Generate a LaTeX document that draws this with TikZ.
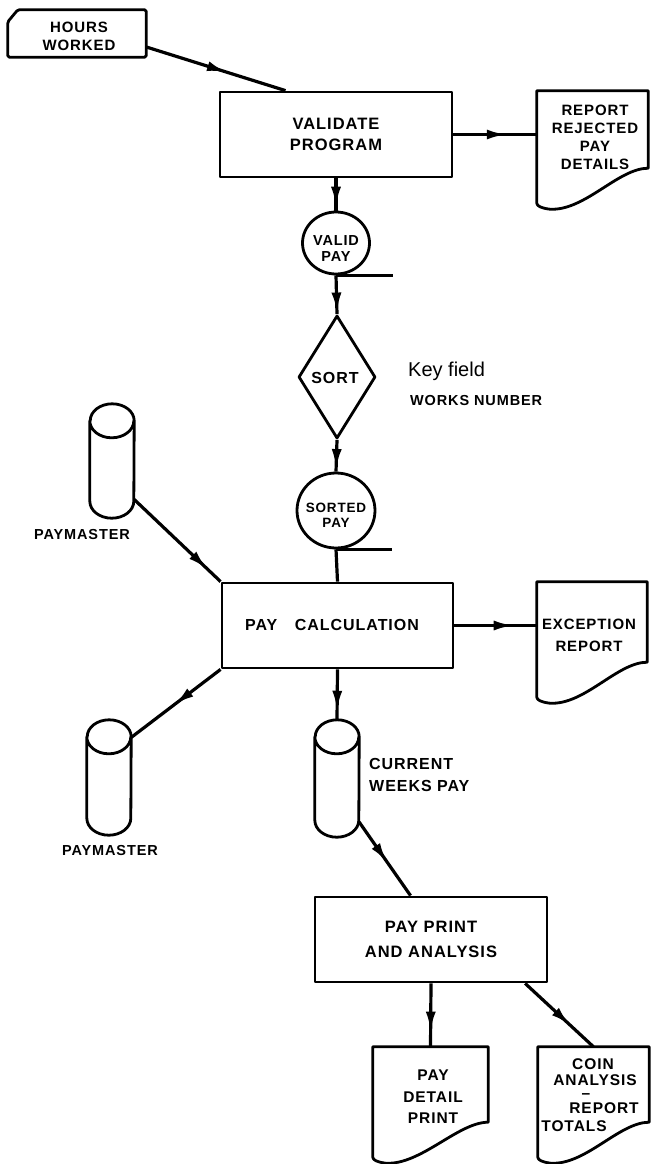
\documentclass[tikz,border=0pt]{standalone}
\usepackage{fontspec}
\setmainfont{Liberation Sans}
\newfontfamily\lbl{Liberation Sans}[LetterSpace=6]
\usetikzlibrary{shapes.geometric,arrows.meta,decorations.markings,calc}

\newcommand\fs[2]{\lbl\bfseries\fontsize{#1}{#2}\selectfont}

\tikzset{
  shp/.style={line width=2.8pt, line join=round},
  procbox/.style={shp, draw, rectangle, inner sep=0pt, align=center, font=\fs{16.5}{21}},
  area/.style={rectangle, inner sep=0pt},
  conn/.style={line width=3.2pt},
  midarr/.style={conn, postaction={decorate}, decoration={markings, mark=at position #1 with {\arrow{Latex[length=20pt,width=10pt]}}}},
  lab/.style={font=\fs{15.5}{18}, align=center, inner sep=0pt},
  smlab/.style={font=\fs{14.5}{16}, align=center, inner sep=0pt},
}

\newcommand\docshape[1]{%
  \draw[shp] let \p1=(#1.north west), \p2=(#1.south east) in
    (\x1,\y1) -- (\x2,\y1) -- (\x2,\y2+35pt)
    .. controls (\x2-30pt,\y2+35pt) and (\x1+48pt,\y2-8pt) .. (\x1+13pt,\y2-6pt)
    .. controls (\x1+5pt,\y2-5pt) and (\x1,\y2-3pt) .. (\x1,\y2) -- cycle;}
\newcommand\cylshape[1]{%
  \draw[shp] let \p1=(#1.north west), \p2=(#1.south east) in
    (\x1,\y1-17pt) -- (\x1,\y2+17pt) arc[start angle=180,end angle=360,x radius=22pt,y radius=17pt]
    -- (\x2,\y1-17pt) arc[start angle=0,end angle=180,x radius=22pt,y radius=17pt] -- cycle
    (\x1,\y1-17pt) arc[start angle=180,end angle=360,x radius=22pt,y radius=17pt];}

\begin{document}
\begin{tikzpicture}[x=1pt,y=-1pt]
\useasboundingbox (0,0) rectangle (651,1164);

% ---- nodes ----
\node[area, minimum width=138pt, minimum height=47pt] (hours) at (77,33.5) {};
\draw[shp, rounded corners=1.5pt] (hours.south west) -- ($(hours.north west)+(0,12)$) -- ($(hours.north west)+(10,0)$) -- (hours.north east) -- (hours.south east) -- cycle;
\node[lab, font=\fs{15}{18}] (hoursT) at (79,36) {HOURS\\WORKED};

\node[procbox, minimum width=232pt, minimum height=85pt] (validate) at (336,134.5) {VALIDATE\\PROGRAM};

\node[area, minimum width=111pt, minimum height=112pt] (report) at (592.5,147) {};
\docshape{report}
\node[lab, font=\fs{15}{18}] (reportT) at (595,137) {REPORT\\REJECTED\\PAY\\DETAILS};

\node[shp, draw, ellipse, inner sep=0pt, minimum width=67pt, minimum height=62pt] (validpay) at (336,243) {};
\node[lab, font=\fs{14.5}{16}] (validpayT) at (336,249) {VALID\\PAY};
\draw[conn] (validpay.south) -- ++(57,0);

\node[shp, draw, diamond, inner sep=0pt, aspect=0.63, minimum width=77pt, minimum height=123pt] (sort) at (337,377) {};
\node[lab, font=\fs{16}{18}] (sortT) at (335,378) {SORT};

\node[anchor=west, inner sep=0pt, font=\fontsize{20}{24}\selectfont] (keyfield) at (408,371) {Key field};
\node[anchor=west, smlab] (works) at (410,401) {WORKS NUMBER};

\node[shp, draw, ellipse, inner sep=0pt, minimum width=78pt, minimum height=75pt] (sortedpay) at (336,510.5) {};
\node[lab, font=\fs{13.5}{15}] (sortedpayT) at (336,515) {SORTED\\PAY};
\draw[conn] (sortedpay.south) -- ++(56,0);

\node[area, minimum width=44pt, minimum height=114pt] (pm1) at (112,461) {};
\cylshape{pm1}
\node[smlab] (pm1T) at (82,535) {PAYMASTER};

\node[procbox, minimum width=231pt, minimum height=85pt] (paycalc) at (337.5,625.5) {};
\node[lab, font=\fs{16}{18}] (paycalcT) at (332,625) {PAY\hspace{1.1em}CALCULATION};

\node[area, minimum width=110pt, minimum height=115pt] (exception) at (592,639.5) {};
\docshape{exception}
\node[lab, font=\fs{15}{22}] (exceptionT) at (589,635) {EXCEPTION\\REPORT};

\node[area, minimum width=44pt, minimum height=115pt] (pm2) at (109,777.5) {};
\cylshape{pm2}
\node[smlab] (pm2T) at (110,850) {PAYMASTER};

\node[area, minimum width=44pt, minimum height=117pt] (cwp) at (337,778.5) {};
\cylshape{cwp}
\node[lab, anchor=west, align=left, font=\fs{16}{22}] (cwpT) at (369,775) {CURRENT\\WEEKS PAY};

\node[procbox, minimum width=232pt, minimum height=85pt, font=\fs{16.5}{25}] (payprint) at (431,939.5) {PAY PRINT\\AND ANALYSIS};

\node[area, minimum width=115pt, minimum height=110pt] (paydetail) at (430.5,1102) {};
\docshape{paydetail}
\node[lab, font=\fs{15.5}{21.5}] (paydetailT) at (433,1097) {PAY\\DETAIL\\PRINT};

\node[area, minimum width=111pt, minimum height=110pt] (coin) at (593.5,1102) {};
\docshape{coin}
\node[lab] (coin1) at (593,1064) {COIN};
\node[lab] (coin2) at (595,1080) {ANALYSIS};
\node[lab] (coin3) at (586,1096) {–};
\node[lab] (coin4) at (604,1108) {REPORT};
\node[lab] (coin5) at (574,1126) {TOTALS};

% ---- connectors ----
\draw[midarr=0.58] (hours.-11) -- (validate.139);
\draw[midarr=0.64] (validate.east) -- (validate.east -| report.west);
\draw[midarr=0.88] (validate.south) -- (validpay.north);
\draw[midarr=0.96] (validpay.south) -- (sort.north);
\draw[midarr=0.92] (sort.south) -- (sortedpay.north);
\draw[conn] (sortedpay.south) -- (paycalc.north);
\draw[midarr=0.85] (pm1.-60) -- (paycalc.north west);
\draw[midarr=0.72] (paycalc.east) -- (paycalc.east -| exception.west);
\draw[midarr=0.52] (paycalc.south west) -- (pm2.61);
\draw[midarr=0.82] (paycalc.south) -- (cwp.north);
\draw[midarr=0.55] (cwp.-63) -- (payprint.115);
\draw[midarr=0.76] (payprint.south) -- (paydetail.north);
\draw[midarr=0.66] (payprint.-25) -- (coin.north);
\end{tikzpicture}
\end{document}
